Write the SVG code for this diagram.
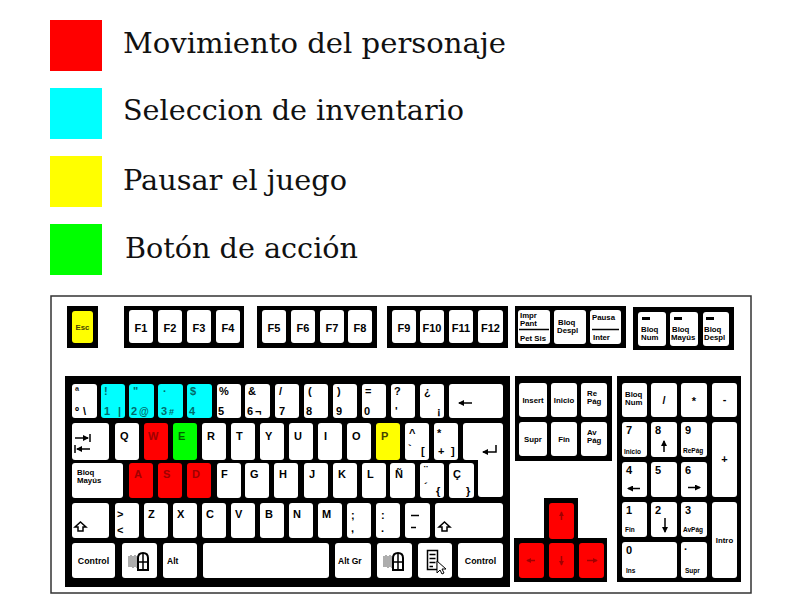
<svg xmlns="http://www.w3.org/2000/svg" width="800" height="600" viewBox="0 0 800 600">
<style>
.lg{font-family:"DejaVu Serif","Liberation Serif",serif;font-size:28px;fill:#111}
.frame{fill:#fff;stroke:#333;stroke-width:1.5}
.blk{fill:#000}
.k{fill:#fff;rx:3px;ry:3px}
.red{fill:#f00}.cyan{fill:#0ff}.yel{fill:#ff0}.grn{fill:#0f0}
.t{font-family:"Liberation Sans",Arial,sans-serif;font-weight:bold;font-size:11px;fill:#000}
.sm{font-size:7.8px}.xs{font-size:6.5px}.m{text-anchor:middle}
.tr{fill:#a00000}.tc{fill:#006a6a}.ty{fill:#444400}.tg{fill:#006000}
.ln{stroke:#000;stroke-width:1.5;fill:none}
.lr{stroke:#a00000;stroke-width:1.5;fill:none}
</style>
<defs>
<marker id="ah" viewBox="0 0 6 6" refX="5" refY="3" markerWidth="6" markerHeight="6" markerUnits="userSpaceOnUse" orient="auto"><path d="M0,0 L6,3 L0,6 z" fill="#000"/></marker>
<marker id="ahr" viewBox="0 0 6 6" refX="5" refY="3" markerWidth="5" markerHeight="5" markerUnits="userSpaceOnUse" orient="auto"><path d="M0,0 L6,3 L0,6 z" fill="#a00000"/></marker>
<g id="winico">
<path d="M1,4 V15 M3,3 V15 M5,4 V16 M7,3 V15 M9,4 V16" stroke="#777" stroke-width="1.2"/>
<path d="M10,18 V6 Q10,1 15,1 Q20,1 20,6 V18 Z" fill="#fff" stroke="#000" stroke-width="2"/>
<path d="M15,1 V18 M10,10 H20" stroke="#000" stroke-width="1.5"/>
</g>
</defs>

<g id="legend">
<g id="leg-red"><rect x="50" y="20" width="52" height="51" fill="#f00"/><text class="lg" x="123" y="53" textLength="383" lengthAdjust="spacingAndGlyphs">Movimiento del personaje</text></g>
<g id="leg-cyan"><rect x="50" y="88" width="52" height="51" fill="#0ff"/><text class="lg" x="123" y="120" textLength="341" lengthAdjust="spacingAndGlyphs">Seleccion de inventario</text></g>
<g id="leg-yellow"><rect x="50" y="156" width="52" height="51" fill="#ff0"/><text class="lg" x="123" y="190" textLength="224" lengthAdjust="spacingAndGlyphs">Pausar el juego</text></g>
<g id="leg-green"><rect x="50" y="224" width="52" height="51" fill="#0f0"/><text class="lg" x="125" y="258" textLength="233" lengthAdjust="spacingAndGlyphs">Botón de acción</text></g>
</g>

<rect id="keyboard-frame" class="frame" x="51" y="296" width="700" height="297"/>

<g id="blocks">
<rect class="blk" x="67" y="306" width="31" height="42"/>
<rect class="blk" x="124" y="306" width="120" height="42"/>
<rect class="blk" x="257" y="306" width="120" height="42"/>
<rect class="blk" x="387" y="306" width="121" height="42"/>
<rect class="blk" x="515" y="306" width="111" height="42"/>
<rect class="blk" x="633" y="307" width="101" height="43"/>
<rect class="blk" x="65" y="376" width="445" height="211"/>
<rect class="blk" x="515" y="376" width="97" height="85"/>
<rect class="blk" x="617" y="376" width="124" height="206"/>
<path class="blk" d="M544,498 h34 v40 h29 v44 h-93 v-44 h30 z"/>
</g>

<g id="top-row">
<g id="k-esc"><rect class="k yel" x="72" y="311" width="21" height="32"/><text class="t sm m ty" x="82.5" y="330">Esc</text></g>
<g id="k-f1"><rect class="k" x="129" y="310" width="24" height="33"/><text class="t m" x="141" y="332">F1</text></g>
<g id="k-f2"><rect class="k" x="158" y="310" width="24" height="33"/><text class="t m" x="170" y="332">F2</text></g>
<g id="k-f3"><rect class="k" x="187" y="310" width="24" height="33"/><text class="t m" x="199" y="332">F3</text></g>
<g id="k-f4"><rect class="k" x="216" y="310" width="24" height="33"/><text class="t m" x="228" y="332">F4</text></g>
<g id="k-f5"><rect class="k" x="262" y="310" width="24" height="33"/><text class="t m" x="274" y="332">F5</text></g>
<g id="k-f6"><rect class="k" x="291" y="310" width="24" height="33"/><text class="t m" x="303" y="332">F6</text></g>
<g id="k-f7"><rect class="k" x="320" y="310" width="24" height="33"/><text class="t m" x="332" y="332">F7</text></g>
<g id="k-f8"><rect class="k" x="348" y="310" width="24" height="33"/><text class="t m" x="360" y="332">F8</text></g>
<g id="k-f9"><rect class="k" x="392" y="310" width="24" height="33"/><text class="t m" x="404" y="332">F9</text></g>
<g id="k-f10"><rect class="k" x="420" y="310" width="24" height="33"/><text class="t m" x="432" y="332">F10</text></g>
<g id="k-f11"><rect class="k" x="449" y="310" width="24" height="33"/><text class="t m" x="461" y="332">F11</text></g>
<g id="k-f12"><rect class="k" x="478" y="310" width="25" height="33"/><text class="t m" x="490.5" y="332">F12</text></g>
<g id="k-impr"><rect class="k" x="518" y="310" width="32" height="34"/><text class="t sm" x="520" y="318">Impr</text><text class="t sm" x="520" y="326">Pant</text><path class="ln" d="M519,329.5 H549" stroke-width="1"/><text class="t sm" x="520" y="341">Pet Sis</text></g>
<g id="k-bloqdespl"><rect class="k" x="554" y="310" width="32" height="34"/><text class="t sm" x="558" y="325">Bloq</text><text class="t sm" x="557" y="333">Despl</text></g>
<g id="k-pausa"><rect class="k" x="590" y="310" width="31" height="34"/><text class="t sm" x="592" y="320">Pausa</text><path class="ln" d="M592,329.5 H619" stroke-width="1"/><text class="t sm" x="593" y="340">Inter</text></g>
<g id="k-lnum"><rect class="k" x="638" y="312" width="28" height="34"/><rect class="blk" x="642" y="317" width="8" height="3"/><text class="t sm" x="641" y="332">Bloq</text><text class="t sm" x="641" y="340">Num</text></g>
<g id="k-lmay"><rect class="k" x="670" y="312" width="28" height="34"/><rect class="blk" x="674" y="317" width="8" height="3"/><text class="t sm" x="672" y="332">Bloq</text><text class="t sm" x="671" y="340">Mayús</text></g>
<g id="k-ldespl"><rect class="k" x="703" y="312" width="26" height="34"/><rect class="blk" x="706" y="317" width="8" height="3"/><text class="t sm" x="704" y="332">Bloq</text><text class="t sm" x="704" y="340">Despl</text></g>
</g>

<g id="row1">
<g id="k-ord"><rect class="k" x="72" y="384" width="25" height="34"/><text class="t" x="75" y="395">ª</text><text class="t" x="75" y="415">º</text><text class="t" x="83" y="415">\</text></g>
<g id="k-1"><rect class="k cyan" x="101" y="384" width="24" height="34"/><text class="t tc" x="104" y="395">!</text><text class="t tc" x="104" y="415">1</text><text class="t tc" x="118" y="415">|</text></g>
<g id="k-2"><rect class="k cyan" x="129" y="384" width="25" height="34"/><text class="t tc" x="133" y="395">"</text><text class="t tc" x="131" y="415">2</text><text class="t tc" x="139" y="415" style="font-size:10px">@</text></g>
<g id="k-3"><rect class="k cyan" x="158" y="384" width="25" height="34"/><text class="t tc" x="163" y="395">·</text><text class="t tc" x="161" y="415">3</text><text class="t tc" x="169" y="415" style="font-size:9px">#</text></g>
<g id="k-4"><rect class="k cyan" x="187" y="384" width="25" height="34"/><text class="t tc" x="190" y="395">$</text><text class="t tc" x="189" y="415">4</text></g>
<g id="k-5"><rect class="k" x="217" y="384" width="24" height="34"/><text class="t" x="219" y="395">%</text><text class="t" x="218" y="415">5</text></g>
<g id="k-6"><rect class="k" x="245" y="384" width="25" height="34"/><text class="t" x="248" y="395">&amp;</text><text class="t" x="247" y="415">6</text><text class="t" x="255" y="415">¬</text></g>
<g id="k-7"><rect class="k" x="275" y="384" width="24" height="34"/><text class="t" x="279" y="395">/</text><text class="t" x="279" y="415">7</text></g>
<g id="k-8"><rect class="k" x="304" y="384" width="24" height="34"/><text class="t" x="308" y="395">(</text><text class="t" x="306" y="415">8</text></g>
<g id="k-9"><rect class="k" x="333" y="384" width="24" height="34"/><text class="t" x="337" y="395">)</text><text class="t" x="336" y="415">9</text></g>
<g id="k-0"><rect class="k" x="362" y="384" width="24" height="34"/><text class="t" x="365" y="395">=</text><text class="t" x="364" y="415">0</text></g>
<g id="k-apos"><rect class="k" x="391" y="384" width="24" height="34"/><text class="t" x="394" y="395">?</text><text class="t" x="395" y="415">'</text></g>
<g id="k-excl"><rect class="k" x="420" y="384" width="24" height="34"/><text class="t" x="424" y="395">¿</text><text class="t" x="437" y="415">¡</text></g>
<g id="k-back"><rect class="k" x="449" y="384" width="54" height="34"/><path class="ln" d="M472,403 H459" marker-end="url(#ah)"/></g>
</g>

<g id="row2">
<g id="k-tab"><rect class="k" x="72" y="423" width="37" height="37"/><path class="ln" d="M75,438 H88" marker-end="url(#ah)"/><path class="ln" d="M90,434 V442"/><path class="ln" d="M90,449 H77" marker-end="url(#ah)"/><path class="ln" d="M75,445 V453"/></g>
<g id="k-q"><rect class="k" x="115" y="423" width="24" height="37"/><text class="t" x="120" y="440">Q</text></g>
<g id="k-w"><rect class="k red" x="144" y="423" width="24" height="37"/><text class="t tr" x="148" y="440">W</text></g>
<g id="k-e"><rect class="k grn" x="173" y="423" width="24" height="37"/><text class="t tg" x="178" y="440">E</text></g>
<g id="k-r"><rect class="k" x="202" y="423" width="24" height="37"/><text class="t" x="207" y="440">R</text></g>
<g id="k-t"><rect class="k" x="231" y="423" width="24" height="37"/><text class="t" x="236" y="440">T</text></g>
<g id="k-y"><rect class="k" x="260" y="423" width="24" height="37"/><text class="t" x="265" y="440">Y</text></g>
<g id="k-u"><rect class="k" x="289" y="423" width="24" height="37"/><text class="t" x="294" y="440">U</text></g>
<g id="k-i"><rect class="k" x="318" y="423" width="24" height="37"/><text class="t" x="324" y="440">I</text></g>
<g id="k-o"><rect class="k" x="347" y="423" width="24" height="37"/><text class="t" x="352" y="440">O</text></g>
<g id="k-p"><rect class="k yel" x="376" y="423" width="24" height="37"/><text class="t ty" x="381" y="440">P</text></g>
<g id="k-caret"><rect class="k" x="405" y="423" width="24" height="37"/><text class="t" x="409" y="437">^</text><text class="t" x="408" y="452">`</text><text class="t" x="421" y="455">[</text></g>
<g id="k-plus"><rect class="k" x="434" y="423" width="24" height="37"/><text class="t" x="437" y="437">*</text><text class="t" x="438" y="455">+</text><text class="t" x="451" y="455">]</text></g>
<g id="k-enter"><path fill="#fff" d="M466,423 h34 a3,3 0 0 1 3,3 v68 a3,3 0 0 1 -3,3 h-19 a3,3 0 0 1 -3,-3 v-34 h-12 a3,3 0 0 1 -3,-3 v-31 a3,3 0 0 1 3,-3 z"/><path class="ln" d="M496,445 V452 H483" marker-end="url(#ah)"/></g>
</g>

<g id="row3">
<g id="k-caps"><rect class="k" x="72" y="463" width="51" height="35"/><text class="t sm" x="77" y="475">Bloq</text><text class="t sm" x="77" y="483">Mayús</text></g>
<g id="k-a"><rect class="k red" x="129" y="463" width="24" height="35"/><text class="t tr" x="134" y="478">A</text></g>
<g id="k-s"><rect class="k red" x="158" y="463" width="24" height="35"/><text class="t tr" x="163" y="478">S</text></g>
<g id="k-d"><rect class="k red" x="187" y="463" width="24" height="35"/><text class="t tr" x="192" y="478">D</text></g>
<g id="k-f"><rect class="k" x="217" y="463" width="24" height="35"/><text class="t" x="221" y="478">F</text></g>
<g id="k-g"><rect class="k" x="245" y="463" width="24" height="35"/><text class="t" x="250" y="478">G</text></g>
<g id="k-h"><rect class="k" x="274" y="463" width="24" height="35"/><text class="t" x="279" y="478">H</text></g>
<g id="k-j"><rect class="k" x="304" y="463" width="24" height="35"/><text class="t" x="309" y="478">J</text></g>
<g id="k-k"><rect class="k" x="333" y="463" width="24" height="35"/><text class="t" x="338" y="478">K</text></g>
<g id="k-l"><rect class="k" x="362" y="463" width="24" height="35"/><text class="t" x="367" y="478">L</text></g>
<g id="k-ntilde"><rect class="k" x="390" y="463" width="25" height="35"/><text class="t" x="395" y="478">Ñ</text></g>
<g id="k-diaer"><rect class="k" x="420" y="463" width="24" height="35"/><text class="t" x="424" y="474">¨</text><text class="t" x="424" y="490">´</text><text class="t" x="436" y="495">{</text></g>
<g id="k-cced"><rect class="k" x="449" y="463" width="25" height="35"/><text class="t" x="453" y="478">Ç</text><text class="t" x="466" y="495">}</text></g>
</g>

<g id="row4">
<g id="k-lshift"><rect class="k" x="72" y="503" width="37" height="35"/><path class="ln" d="M80.5,522 L86,527 H83 V531 H78 V527 H75 Z" stroke-width="1.4"/></g>
<g id="k-lt"><rect class="k" x="115" y="503" width="24" height="35"/><text class="t" x="117" y="518">&gt;</text><text class="t" x="117" y="534">&lt;</text></g>
<g id="k-z"><rect class="k" x="144" y="503" width="24" height="35"/><text class="t" x="148" y="518">Z</text></g>
<g id="k-x"><rect class="k" x="173" y="503" width="24" height="35"/><text class="t" x="177" y="518">X</text></g>
<g id="k-c"><rect class="k" x="202" y="503" width="24" height="35"/><text class="t" x="206" y="518">C</text></g>
<g id="k-v"><rect class="k" x="231" y="503" width="24" height="35"/><text class="t" x="235" y="518">V</text></g>
<g id="k-b"><rect class="k" x="260" y="503" width="24" height="35"/><text class="t" x="265" y="518">B</text></g>
<g id="k-n"><rect class="k" x="289" y="503" width="24" height="35"/><text class="t" x="293" y="518">N</text></g>
<g id="k-m"><rect class="k" x="318" y="503" width="24" height="35"/><text class="t" x="322" y="518">M</text></g>
<g id="k-semi"><rect class="k" x="347" y="503" width="24" height="35"/><text class="t" x="351" y="519">;</text><text class="t" x="351" y="532">,</text></g>
<g id="k-colon"><rect class="k" x="376" y="503" width="24" height="35"/><text class="t" x="381" y="519">:</text><text class="t" x="381" y="532">.</text></g>
<g id="k-minus"><rect class="k" x="405" y="503" width="25" height="35"/><path class="ln" d="M411,515.5 H419" stroke-width="1.6"/><path class="ln" d="M411,527.5 H416" stroke-width="1.6"/></g>
<g id="k-rshift"><rect class="k" x="435" y="503" width="68" height="35"/><path class="ln" d="M444.5,522 L450,527 H447 V531 H442 V527 H439 Z" stroke-width="1.4"/></g>
</g>

<g id="row5">
<g id="k-lctrl"><rect class="k" x="72" y="543" width="43" height="35"/><text class="t sm m" x="93.5" y="564" style="font-size:8.8px">Control</text></g>
<g id="k-lwin"><rect class="k" x="122" y="543" width="35" height="35"/><use href="#winico" x="128" y="552"/></g>
<g id="k-alt"><rect class="k" x="163" y="543" width="34" height="35"/><text class="t sm" x="167" y="564" style="font-size:8.5px">Alt</text></g>
<g id="k-space"><rect class="k" x="203" y="543" width="126" height="35"/></g>
<g id="k-altgr"><rect class="k" x="335" y="543" width="36" height="35"/><text class="t sm" x="338" y="564" style="font-size:8.5px">Alt Gr</text></g>
<g id="k-rwin"><rect class="k" x="377" y="543" width="35" height="35"/><use href="#winico" x="383" y="552"/></g>
<g id="k-menu"><rect class="k" x="418" y="543" width="34" height="35"/><rect x="427.5" y="550.5" width="10" height="19" fill="#fff" stroke="#000" stroke-width="1.5"/><path d="M429.5,554.5 H435.5 M429.5,558.5 H435.5 M429.5,562.5 H435.5 M429.5,566.5 H433" stroke="#000" stroke-width="1.5"/><path d="M437,561 V573 L440,570 L442,574 L444,573 L442,569 L446,569 Z" fill="#fff" stroke="#000" stroke-width="1"/></g>
<g id="k-rctrl"><rect class="k" x="458" y="543" width="45" height="35"/><text class="t sm m" x="480.5" y="564" style="font-size:8.8px">Control</text></g>
</g>

<g id="nav">
<g id="k-ins"><rect class="k" x="519" y="383" width="28" height="34"/><text class="t sm m" x="533" y="403">Insert</text></g>
<g id="k-home"><rect class="k" x="551" y="383" width="26" height="34"/><text class="t sm m" x="564" y="403">Inicio</text></g>
<g id="k-pgup"><rect class="k" x="581" y="383" width="26" height="34"/><text class="t sm" x="587" y="396">Re</text><text class="t sm" x="587" y="404">Pág</text></g>
<g id="k-del"><rect class="k" x="519" y="422" width="28" height="34"/><text class="t sm m" x="533" y="442">Supr</text></g>
<g id="k-end"><rect class="k" x="551" y="422" width="26" height="34"/><text class="t sm m" x="564" y="442">Fin</text></g>
<g id="k-pgdn"><rect class="k" x="581" y="422" width="26" height="34"/><text class="t sm" x="587" y="435">Av</text><text class="t sm" x="587" y="443">Pág</text></g>
</g>

<g id="arrows">
<g id="k-up"><rect class="k red" x="549" y="503" width="25" height="36"/><path class="lr" d="M561.5,520 V512" marker-end="url(#ahr)"/></g>
<g id="k-left"><rect class="k red" x="519" y="543" width="25" height="35"/><path class="lr" d="M535,560.5 H527" marker-end="url(#ahr)"/></g>
<g id="k-down"><rect class="k red" x="549" y="543" width="25" height="35"/><path class="lr" d="M561.5,556 V565" marker-end="url(#ahr)"/></g>
<g id="k-right"><rect class="k red" x="579" y="543" width="25" height="35"/><path class="lr" d="M587,560.5 H597" marker-end="url(#ahr)"/></g>
</g>

<g id="numpad">
<g id="k-numlock"><rect class="k" x="622" y="383" width="25" height="34"/><text class="t sm" x="625" y="397">Bloq</text><text class="t sm" x="625" y="405">Num</text></g>
<g id="k-div"><rect class="k" x="651" y="383" width="26" height="34"/><text class="t m" x="664" y="404">/</text></g>
<g id="k-mul"><rect class="k" x="681" y="383" width="26" height="34"/><text class="t m" x="694" y="405">*</text></g>
<g id="k-sub"><rect class="k" x="712" y="383" width="25" height="34"/><text class="t m" x="724.5" y="403">-</text></g>
<g id="k-n7"><rect class="k" x="622" y="422" width="25" height="35"/><text class="t" x="626" y="434">7</text><text class="t xs" x="624" y="454">Inicio</text></g>
<g id="k-n8"><rect class="k" x="651" y="422" width="26" height="35"/><text class="t" x="655" y="434">8</text><path class="ln" d="M664,452 V441" marker-end="url(#ah)"/></g>
<g id="k-n9"><rect class="k" x="681" y="422" width="26" height="35"/><text class="t" x="685" y="434">9</text><text class="t xs" x="683" y="453">RePág</text></g>
<g id="k-nplus"><rect class="k" x="712" y="422" width="25" height="75"/><text class="t m" x="724.5" y="463">+</text></g>
<g id="k-n4"><rect class="k" x="622" y="462" width="25" height="35"/><text class="t" x="626" y="474">4</text><path class="ln" d="M640,488.5 H628" marker-end="url(#ah)"/></g>
<g id="k-n5"><rect class="k" x="651" y="462" width="26" height="35"/><text class="t" x="655" y="474">5</text></g>
<g id="k-n6"><rect class="k" x="681" y="462" width="26" height="35"/><text class="t" x="685" y="474">6</text><path class="ln" d="M688,487.5 H700" marker-end="url(#ah)"/></g>
<g id="k-n1"><rect class="k" x="622" y="502" width="25" height="35"/><text class="t" x="626" y="514">1</text><text class="t xs" x="625" y="532">Fin</text></g>
<g id="k-n2"><rect class="k" x="651" y="502" width="26" height="35"/><text class="t" x="655" y="514">2</text><path class="ln" d="M665,518 V532" marker-end="url(#ah)"/></g>
<g id="k-n3"><rect class="k" x="681" y="502" width="26" height="35"/><text class="t" x="685" y="514">3</text><text class="t xs" x="683" y="532">AvPág</text></g>
<g id="k-intro"><rect class="k" x="712" y="502" width="25" height="76"/><text class="t sm m" x="724.5" y="543">Intro</text></g>
<g id="k-n0"><rect class="k" x="622" y="542" width="55" height="36"/><text class="t" x="626" y="554">0</text><text class="t xs" x="626" y="573">Ins</text></g>
<g id="k-ndot"><rect class="k" x="681" y="542" width="26" height="36"/><text class="t" x="684" y="550">.</text><text class="t xs" x="685" y="573">Supr</text></g>
</g>
</svg>
